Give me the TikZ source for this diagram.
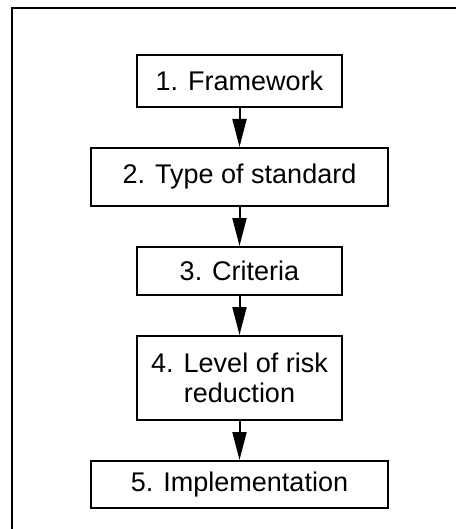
\documentclass[tikz,border=0pt]{standalone}
\usepackage{fontspec}
\setmainfont{Liberation Sans}
\usetikzlibrary{arrows.meta,positioning}

\begin{document}
\begin{tikzpicture}
[x=1pt,y=1pt,
node distance=19.5pt,
inner sep=0pt,
font=\fontsize{13.5}{15}\selectfont,
stage/.style={rectangle,draw=black,line width=1pt,align=center},
narrow/.style={stage,minimum width=102.5pt},
wide/.style={stage,minimum width=148.5pt},
pre/.style={{Triangle[length=14pt,width=7pt]}-,line width=1pt}]
\useasboundingbox (0,0) rectangle (228,-264.5);
\draw[line width=1.2pt] (228,-4) -- (6,-4) -- (6,-264.5);
\node[narrow,minimum height=26pt,anchor=north] (framework) at (119.75,-27) {1. Framework};
\node[wide,minimum height=29pt] (type) [below=of framework] {2. Type of standard}
edge [pre] (framework);
\node[narrow,minimum height=24pt] (criteria) [below=of type] {3. Criteria}
edge [pre] (type);
\node[narrow,minimum height=42pt] (level) [below=of criteria] {4. Level of risk\\reduction}
edge [pre] (criteria);
\node[wide,minimum height=23.5pt] (implementation) [below=of level] {5. Implementation}
edge [pre] (level);
\end{tikzpicture}
\end{document}
